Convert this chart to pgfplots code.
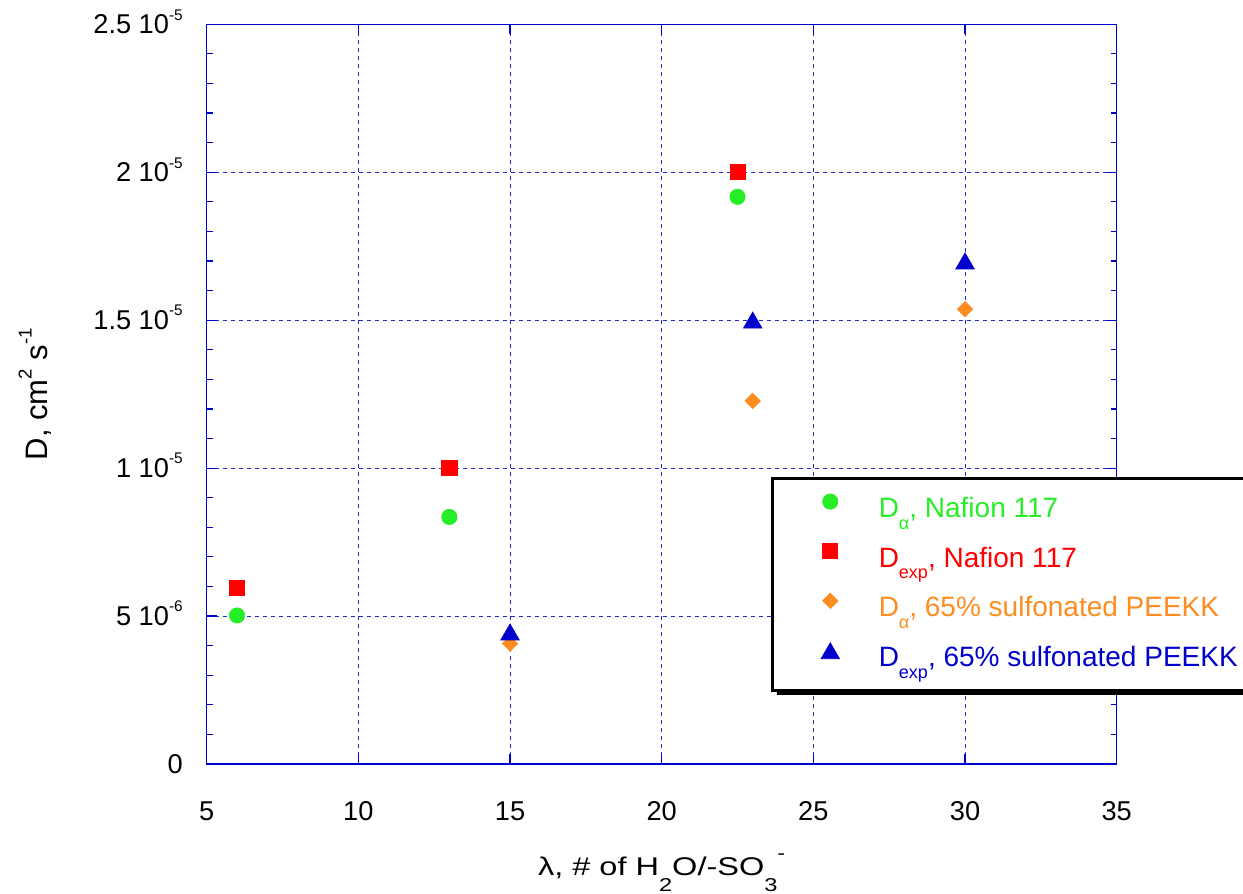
\documentclass[border=0pt]{standalone}
\usepackage{fontspec}
\setmainfont{Liberation Sans}
\usepackage{pgfplots}
\pgfplotsset{compat=1.18}
\usetikzlibrary{shadows}

\definecolor{cNafA}{RGB}{38,238,38}
\definecolor{cNafE}{RGB}{255,0,0}
\definecolor{cPekA}{RGB}{255,140,32}
\definecolor{cPekE}{RGB}{0,0,204}
\definecolor{axblue}{RGB}{0,0,204}

% raised / lowered indices in the text font
\newcommand{\tsup}[1]{\raisebox{0.5em}{\fontsize{7.7}{8}\selectfont #1}}
\newcommand{\lsub}[1]{\raisebox{-0.42em}{\fontsize{9}{9}\selectfont #1}}
\newcommand{\xsub}[1]{\raisebox{-0.64em}{\fontsize{9.3}{10}\selectfont #1}}
\newcommand{\xsup}[1]{\raisebox{0.62em}{\fontsize{9.3}{10}\selectfont #1}}
\newcommand{\ysup}[1]{\raisebox{0.53em}{\fontsize{9.3}{10}\selectfont #1}}

\begin{document}
\begin{tikzpicture}
\path[use as bounding box] (-103.35pt,-65pt) rectangle (518.15pt,382pt);
\begin{axis}[
  at={(0,0)}, anchor=south west,
  scale only axis, width=455pt, height=369.85pt,
  xmin=5, xmax=35, ymin=0, ymax=2.5e-5,
  xtick={5,10,...,35},
  ytick={0,5e-6,1e-5,1.5e-5,2e-5,2.5e-5},
  yticklabels={0, 5 10\tsup{-6}, 1 10\tsup{-5}, 1.5 10\tsup{-5}, 2 10\tsup{-5}, 2.5 10\tsup{-5}},
  scaled y ticks=false,
  minor y tick num=4,
  tick align=inside, tick pos=both,
  major tick length=5pt, minor tick length=3pt,
  axis line style={axblue, line width=0.75pt},
  every tick/.style={axblue, line width=0.6pt},
  grid=major,
  major grid style={axblue!85!white, dash pattern=on 2pt off 2pt, line width=0.5pt},
  /pgf/number format/assume math mode=true,
  tick label style={font=\fontsize{13.6}{16}\selectfont, inner sep=0pt},
  xticklabel style={anchor=base, yshift=-28pt},
  yticklabel style={anchor=base east, xshift=-11.8pt, yshift=-4.7pt},
  xlabel={\scalebox{1.27}[1]{λ, \# of H\xsub{2}O/-SO\xsub{3}\xsup{-}}},
  ylabel={D, cm\ysup{2} s\ysup{-1}},
  every axis x label/.style={at={([yshift=-55.5pt]axis description cs:0.5,0)}, anchor=base, font=\fontsize{12.8}{15}\selectfont},
  every axis y label/.style={at={([xshift=-79.35pt]axis description cs:0,0.5)}, rotate=90, anchor=base, font=\fontsize{15.5}{18}\selectfont},
  legend style={
    at={(axis description cs:0.62,0.388)}, anchor=north west,
    draw=black, line width=1.4pt, fill=white,
    drop shadow={shadow xshift=2.5pt, shadow yshift=-2.5pt, fill=black, opacity=1},
    inner xsep=19.76pt, inner ysep=7.8pt,
    row sep=9pt, column sep=15pt,
    nodes={inner sep=0pt, text height=10pt, text depth=4pt},
    font=\fontsize{14}{16}\selectfont,
  },
  legend cell align=left,
  legend image code/.code={\path (0cm,0pt) (0.6cm,0pt);
    \draw[#1, line width=0.4pt] plot coordinates {(0.3cm,5pt)};},
]
\addplot[only marks, mark=*, mark size=3.8pt, cNafA]
  coordinates {(6,5.02e-6) (13,8.35e-6) (22.5,1.917e-5)};
\addlegendentry{\textcolor{cNafA}{D\lsub{α}, Nafion 117}}
\addplot[only marks, mark=square*, mark size=3.8pt, cNafE]
  coordinates {(6,5.96e-6) (13,1e-5) (22.5,2e-5)};
\addlegendentry{\textcolor{cNafE}{D\lsub{exp}, Nafion 117}}
\addplot[only marks, mark=square*, mark size=2.7pt, mark options={rotate=45}, cPekA]
  coordinates {(15,4.07e-6) (23,1.227e-5) (30,1.537e-5)};
\addlegendentry{\textcolor{cPekA}{D\lsub{α}, 65\% sulfonated PEEKK}}
\addplot[only marks, mark=triangle*, mark size=5.3pt, mark options={yshift=-1.3pt}, cPekE]
  coordinates {(15,4.46e-6) (23,1.5e-5) (30,1.7e-5)};
\addlegendentry{\textcolor{cPekE}{D\lsub{exp}, 65\% sulfonated PEEKK}}
\end{axis}
\end{tikzpicture}
\end{document}
